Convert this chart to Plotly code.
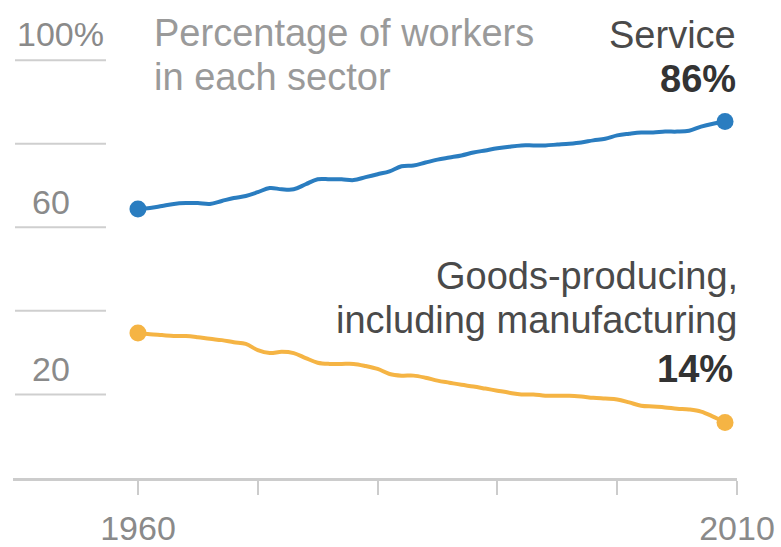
import plotly.graph_objects as go

years = list(range(1960, 2010))
service = [64.4, 64.6, 65.1, 65.6, 65.8, 65.8, 65.6, 66.3, 67.0, 67.5,
           68.4, 69.4, 69.1, 69.1, 70.3, 71.5, 71.5, 71.5, 71.3, 72.0,
           72.7, 73.4, 74.6, 74.8, 75.5, 76.2, 76.7, 77.2, 77.9, 78.4,
           78.9, 79.3, 79.6, 79.6, 79.6, 79.8, 80.0, 80.3, 80.8, 81.2,
           82.0, 82.4, 82.7, 82.7, 82.9, 82.9, 83.1, 84.1, 84.8, 85.3]
goods = [34.7, 34.4, 34.2, 34.0, 34.0, 33.7, 33.3, 33.0, 32.5, 32.1,
         30.6, 29.9, 30.2, 29.9, 28.7, 27.6, 27.3, 27.3, 27.3, 26.8,
         26.1, 24.9, 24.5, 24.5, 24.0, 23.3, 22.8, 22.3, 21.9, 21.4,
         20.9, 20.4, 20.0, 20.0, 19.7, 19.7, 19.7, 19.5, 19.2, 19.0,
         18.8, 18.1, 17.3, 17.1, 16.9, 16.6, 16.4, 15.9, 14.7, 13.3]

x_ticks = [1960, 1970, 1980, 1990, 2000, 2010]
x_ticktext = ["1960", "", "", "", "", "2010"]
grid_vals = [20, 40, 60, 80, 100]
y_labels = {100: "100%", 60: "60", 20: "20"}

BLUE = "#2a7dc0"
ORANGE = "#f5b444"
FONT = "Liberation Sans, Arial, sans-serif"

W, H = 781, 547
ML, MR, MT, MB = 13, 44, 0, 63
PW, PH = W - ML - MR, H - MT - MB


def px(x):
    return (x - ML) / PW


def py(y):
    return (H - MB - y) / PH


fig = go.Figure()
for vals, col in [(service, BLUE), (goods, ORANGE)]:
    fig.add_trace(go.Scatter(x=years, y=vals, mode="lines",
                             line=dict(color=col, width=4, shape="spline", smoothing=1.0),
                             hoverinfo="skip", showlegend=False))
    fig.add_trace(go.Scatter(x=[years[0], years[-1]], y=[vals[0], vals[-1]], mode="markers",
                             marker=dict(color=col, size=17), hoverinfo="skip", showlegend=False))

shapes = []
for g in grid_vals:
    shapes.append(dict(type="line", xref="paper", yref="y", x0=px(15), x1=px(106), y0=g, y1=g,
                       line=dict(color="#cfcfcf", width=2), layer="below"))
fig.update_layout(shapes=shapes)

ann = []
for v, t in y_labels.items():
    if t.endswith("%"):
        ann.append(dict(x=px(15), xanchor="left", y=v, yref="y", yanchor="bottom", yshift=5,
                        text=t, showarrow=False, xref="paper",
                        font=dict(size=34, color="#8a8a8a", family=FONT)))
    else:
        ann.append(dict(x=px(72), xanchor="right", y=v, yref="y", yanchor="bottom", yshift=4,
                        text=t, showarrow=False, xref="paper",
                        font=dict(size=34, color="#8a8a8a", family=FONT)))


def txt(text, x, y, anchor, size, color, bold=False):
    if bold:
        text = "<b>" + text + "</b>"
    return dict(text=text, x=px(x), y=py(y), xref="paper", yref="paper", xanchor=anchor,
                yanchor="middle", showarrow=False, font=dict(size=size, color=color, family=FONT))


ann += [
    txt("Percentage of workers", 152, 33, "left", 38, "#9a9a9a"),
    txt("in each sector", 152, 78, "left", 38, "#9a9a9a"),
    txt("Service", 738, 35, "right", 38, "#4a4a4a"),
    txt("86%", 738, 80, "right", 38, "#333333", True),
    txt("Goods-producing,", 740, 279, "right", 38, "#4a4a4a"),
    txt("including manufacturing", 739, 324, "right", 38, "#4a4a4a"),
    txt("14%", 735, 374, "right", 38, "#333333", True),
]
fig.update_layout(annotations=ann)

fig.update_layout(
    width=W, height=H,
    margin=dict(l=ML, r=MR, t=MT, b=MB, pad=0),
    paper_bgcolor="white", plot_bgcolor="white",
    xaxis=dict(range=[1949.57, 2010], showgrid=False, zeroline=False,
               showline=True, linecolor="#cccccc", linewidth=3,
               ticks="outside", ticklen=14, tickwidth=2, tickcolor="#cccccc",
               tickvals=x_ticks, ticktext=x_ticktext, ticklabelstandoff=4,
               tickfont=dict(size=34, color="#8a8a8a", family=FONT)),
    yaxis=dict(range=[0, 114.4], showgrid=False, zeroline=False, showticklabels=False,
               showline=False),
)

fig.write_html("out.html", config={"displayModeBar": False},
               post_script="document.body.style.margin='0px';document.body.style.overflow='hidden';")
